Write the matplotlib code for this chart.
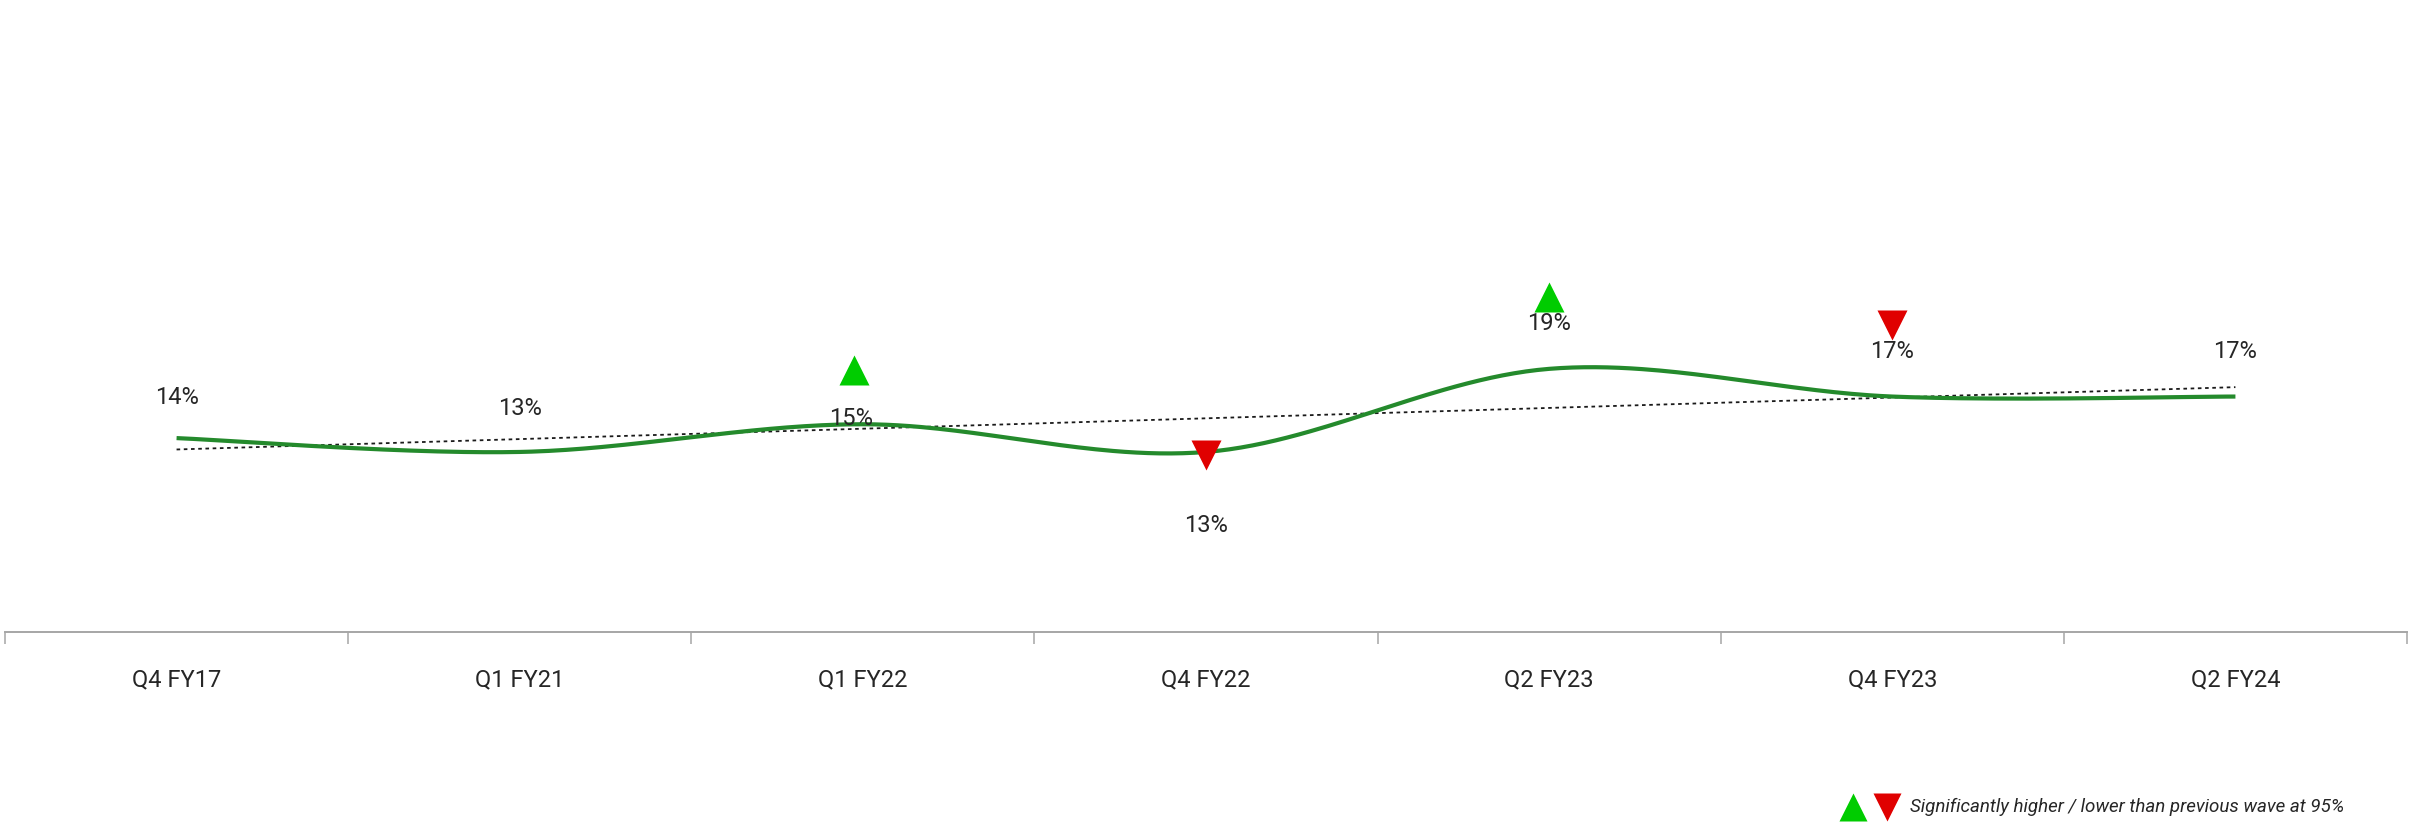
import numpy as np
import matplotlib
matplotlib.use("Agg")
import matplotlib.pyplot as plt
from matplotlib import font_manager
from matplotlib.transforms import offset_copy

# ---- data ----
waves = ["Q4 FY17", "Q1 FY21", "Q1 FY22", "Q4 FY22", "Q2 FY23", "Q4 FY23", "Q2 FY24"]
share = [0.14, 0.13, 0.15, 0.13, 0.19, 0.17, 0.17]
# significance vs previous wave: +1 higher, -1 lower, 0 none
signif = [0, 0, 1, -1, 1, -1, 0]
legend_text = "Significantly higher / lower than previous wave at 95%"

# ---- styling ----
names = {f.name for f in font_manager.fontManager.ttflist}
base_font = "Liberation Sans Narrow" if "Liberation Sans Narrow" in names else "Roboto"
plt.rcParams["font.family"] = [base_font, "DejaVu Sans"]

LINE_GREEN = "#248A2C"
UP_GREEN = "#00CC00"
DOWN_RED = "#E00000"
TEXT = "#262626"
AXIS = "#A6A6A6"

# label offsets in pixels (dx, dy) relative to each point
label_off = [(0, 41), (0, 43), (-12, 6), (0, -74), (0, 45), (0, 45), (0, 45)]
# significance marker offsets in pixels
marker_off = {2: (-9, 54), 3: (0, -3), 4: (0, 72), 5: (0, 72)}


def smooth(xs, ys, n=60):
    """Bezier smoothing through the points (Catmull-Rom style control points)."""
    P = np.column_stack([xs, ys]).astype(float)
    ext = np.vstack([P[0], P, P[-1]])
    out = []
    t = np.linspace(0, 1, n)[:, None]
    for i in range(len(P) - 1):
        p0, p1, p2, p3 = ext[i], ext[i + 1], ext[i + 2], ext[i + 3]
        c1 = p1 + (p2 - p0) / 6.0
        c2 = p2 - (p3 - p1) / 6.0
        seg = (1 - t) ** 3 * p1 + 3 * (1 - t) ** 2 * t * c1 + 3 * (1 - t) * t ** 2 * c2 + t ** 3 * p2
        out.append(seg if i == 0 else seg[1:])
    return np.vstack(out)


W, H, DPI = 2412, 822, 100
fig = plt.figure(figsize=(W / DPI, H / DPI), dpi=DPI)
ax = fig.add_axes([5 / W, 1 - 632 / H, (2407 - 5) / W, (632 - 78) / H])

x = np.arange(len(waves))
y = np.array(share)

# smoothed series line
curve = smooth(x, y)
ax.plot(curve[:, 0], curve[:, 1], color=LINE_GREEN, lw=3.0, solid_capstyle="butt", zorder=3)

# linear trendline
k, b = np.polyfit(x, y, 1)
ax.plot([x[0], x[-1]], [k * x[0] + b, k * x[-1] + b], color="#1A1A1A", lw=1.3,
        linestyle=(0, (2, 2)), zorder=2)

# data labels
for i, v in enumerate(share):
    dx, dy = label_off[i]
    tr = offset_copy(ax.transData, fig=fig, x=dx, y=dy, units="dots")
    ax.text(x[i], v, f"{round(v * 100):d}%", transform=tr, ha="center", va="center",
            fontsize=17, color=TEXT, zorder=4)

# significance markers
for i, s in enumerate(signif):
    if s == 0:
        continue
    dx, dy = marker_off[i]
    tr = offset_copy(ax.transData, fig=fig, x=dx, y=dy, units="dots")
    ax.plot([x[i]], [share[i]], marker="^" if s > 0 else "v", ms=21,
            color=UP_GREEN if s > 0 else DOWN_RED, mec="none", transform=tr,
            clip_on=False, zorder=5)

# axes
ax.set_xlim(-0.5, len(waves) - 0.5)
ax.set_ylim(0, 0.40)
ax.set_yticks([])
ax.set_xticks(x)
ax.set_xticklabels(waves, fontsize=17, color=TEXT)
ax.set_xticks(np.arange(-0.5, len(waves)), minor=True)
ax.tick_params(axis="x", which="major", length=0, pad=26)
ax.tick_params(axis="x", which="minor", length=8.5, width=1.1, color=AXIS, direction="out")
for side in ("top", "left", "right"):
    ax.spines[side].set_visible(False)
ax.spines["bottom"].set_color(AXIS)
ax.spines["bottom"].set_linewidth(1.4)
ax.patch.set_alpha(0)

# legend
ly = 1 - 807 / H
fig.lines.append(plt.Line2D([1853 / W], [ly], marker="^", ms=20, color=UP_GREEN, mec="none",
                            transform=fig.transFigure))
fig.lines.append(plt.Line2D([1887 / W], [ly], marker="v", ms=20, color=DOWN_RED, mec="none",
                            transform=fig.transFigure))
fig.text(1910 / W, ly, legend_text, fontsize=13.5, style="italic", color=TEXT,
         ha="left", va="center")

fig.savefig("out.png", dpi=DPI, facecolor="white")
